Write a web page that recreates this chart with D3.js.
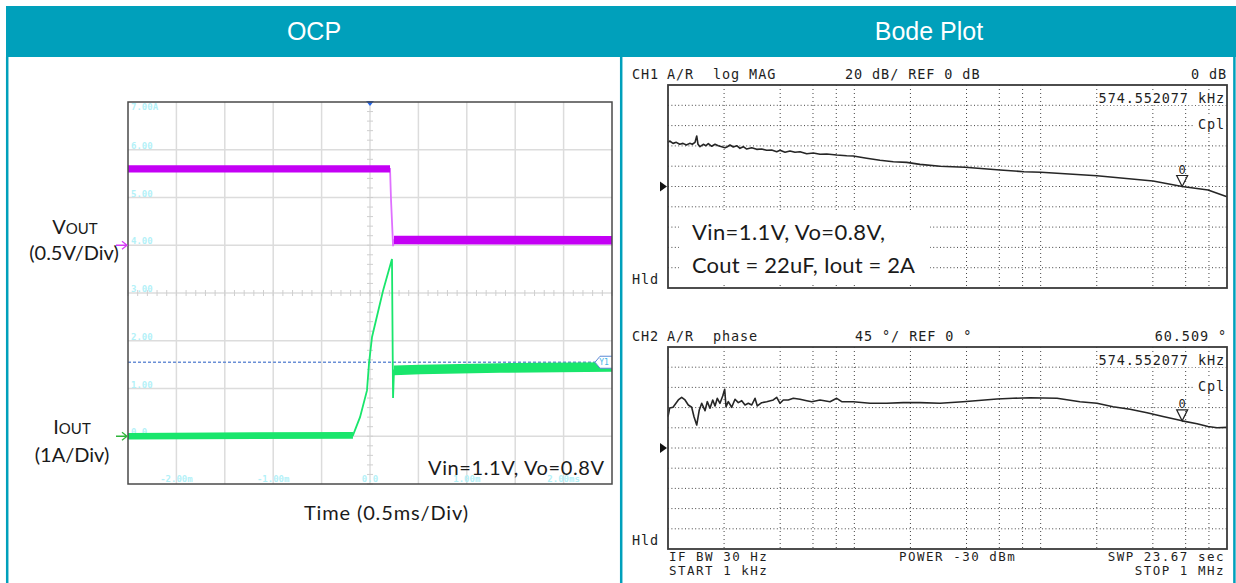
<!DOCTYPE html>
<html>
<head>
<meta charset="utf-8">
<script src="https://cdnjs.cloudflare.com/ajax/libs/d3/7.8.5/d3.min.js"></script>
<style>
	body { margin: 0; background: #fff; }
	svg { display: block; }
	.mono { font-family: "DejaVu Sans Mono", monospace; white-space: pre; fill: #1e1e1e; }
	.cal { font-family: Lato, "Open Sans", sans-serif; fill: #1a1a1a; }
</style>
</head>
<body>
<div id="chart"></div>
<script>

///////////////////////////////////////////////////////////////////////////
/////////////////////////////////// Data //////////////////////////////////
///////////////////////////////////////////////////////////////////////////

//Scope (OCP) - time in ms, current in A, voltage in V
var scopeTimeTicks = [-2, -1, 0, 1, 2];
var scopeTimeLabels = ["-2.00m", "-1.00m", "0.0", "1.00m", "2.00ms"];
var scopeAmpTicks = [0, 1, 2, 3, 4, 5, 6, 7];
var scopeAmpLabels = ["0.0", "1.00", "2.00", "3.00", "4.00", "5.00", "6.00", "7.00A"];
var cursorY1 = 1.55;

//[time, value, ripple]
var ioutTrace = [
	[-2.5, 0.00, 0.07], [-0.176, 0.02, 0.07], [-0.103, 0.40, 0], [-0.031, 0.96, 0],
	[-0.010, 1.53, 0], [0.021, 2.08, 0], [0.134, 3.04, 0], [0.227, 3.71, 0],
	[0.238, 0.80, 0], [0.248, 1.38, 0.1], [0.52, 1.40, 0.1], [1.34, 1.43, 0.1], [2.5, 1.45, 0.1]
];
var voutTrace = [
	[-2.5, 0.80, 0.037], [0.207, 0.80, 0.037], [0.217, 0.48, 0], [0.233, 0.115, 0],
	[0.238, -0.01, 0], [0.248, 0.055, 0.045], [2.5, 0.052, 0.045]
];

//Bode - frequency in kHz
var bodeGridFreqs = [2, 4, 6, 8, 10, 20, 40, 60, 80, 100, 200, 400, 600, 800];
var markerFreq = 574.552077;
var markerMag = 0;
var markerPhase = 60.509;

//[kHz, dB]
var magTrace = [
	[1.000,43.5],[1.021,44.8],[1.064,42.5],[1.108,43.5],[1.155,41.6],[1.204,42.5],[1.254,40.9],
	[1.308,42.5],[1.350,41.6],[1.396,43.5],[1.426,49.8],[1.449,41.6],[1.485,39.2],[1.547,41.6],
	[1.599,40.2],[1.646,42.2],[1.716,39.6],[1.788,41.6],[1.862,40.2],[1.942,39.2],[2.023,38.2],
	[2.081,39.2],[2.151,40.9],[2.241,38.9],[2.338,40.2],[2.434,37.6],[2.536,39.2],[2.645,36.9],
	[2.814,38.2],[2.992,36.6],[3.184,36.9],[3.386,35.7],[3.602,36.0],[3.832,34.3],[3.992,35.7],
	[4.246,33.7],[4.516,35.0],[4.804,33.7],[5.110,34.3],[5.552,32.3],[6.024,33.0],[6.544,31.7],
	[7.108,32.0],[8.043,31.0],[9.10,30.3],[9.87,30.0],[11.65,27.8],[13.73,25.8],[16.19,24.4],
	[19.1,23.8],[22.51,21.8],[28.83,19.9],[39.26,18.9],[60.5,16.3],[81.4,14.6],[100.4,14.0],
	[200.6,10.6],[400.8,5.4],[574.55,0],[791,-3.4],[1000,-10]
];

//[kHz, degrees]
var phaseTrace = [
	[1.000,69.7],[1.021,89.1],[1.064,90.7],[1.136,107],[1.184,113],[1.234,107],[1.285,95.8],
	[1.340,90.7],[1.379,69.7],[1.426,51.2],[1.472,84.7],[1.517,99.6],[1.580,83.1],[1.625,103.2],
	[1.680,88.5],[1.738,107],[1.788,93.6],[1.839,110.7],[1.901,99.6],[1.966,115.9],[2.015,130.8],
	[2.048,92],[2.107,103.2],[2.197,90.7],[2.289,108.5],[2.384,101],[2.487,105.4],[2.590,95.8],
	[2.698,99.6],[2.814,95.8],[2.931,110.7],[3.015,93.6],[3.184,101],[3.386,103.2],[3.674,107],
	[3.832,113],[3.992,99.6],[4.157,107],[4.421,107],[4.705,110.7],[5.110,108.5],[5.552,105.4],
	[5.905,103.2],[6.544,107],[7.403,103.2],[8.043,110.7],[8.556,103.2],[9.87,103.2],[12.14,99.6],
	[14.92,99.6],[18.31,101],[22.51,101],[28.83,99.6],[38.31,103.2],[58.3,109.2],[71.0,110.7],
	[87.7,112],[122.4,110.7],[162.6,103.2],[200.6,99.6],[244.5,92],[301.7,86.2],[372.2,78.7],
	[453.6,70],[574.55,60.5],[690.4,54],[791,48],[884,45],[1000,46]
];

///////////////////////////////////////////////////////////////////////////
//////////////////// Set up and initiate svg containers ///////////////////
///////////////////////////////////////////////////////////////////////////

var width = 1236,
	height = 583,
	teal = "#00a0bb";

var svg = d3.select("#chart").append("svg")
	.attr("width", width)
	.attr("height", height);

//Header band and panel borders
svg.append("rect")
	.attr("x", 6).attr("y", 6)
	.attr("width", width - 6).attr("height", 51)
	.attr("fill", teal);

[7.2, 621.2, 1234.4].forEach(function(x) {
	svg.append("line")
		.attr("x1", x).attr("x2", x)
		.attr("y1", 57).attr("y2", height)
		.attr("stroke", teal)
		.attr("stroke-width", 2.5);
});

svg.selectAll(".header-text")
	.data([["OCP", 314], ["Bode Plot", 929]])
	.enter().append("text")
	.attr("class", "header-text")
	.attr("x", function(d) { return d[1]; })
	.attr("y", 40)
	.attr("text-anchor", "middle")
	.style("font-family", "'Liberation Sans', Arial, sans-serif")
	.style("font-size", "25px")
	.style("fill", "#fff")
	.text(function(d) { return d[0]; });

///////////////////////////////////////////////////////////////////////////
///////////////////////////// Scope screenshot ////////////////////////////
///////////////////////////////////////////////////////////////////////////

var scope = {left: 128, right: 612, top: 102, bottom: 484};

var xT = d3.scaleLinear().domain([-2.5, 2.5]).range([scope.left, scope.right]);
var yI = d3.scaleLinear().domain([-1, 7]).range([scope.bottom, scope.top]);	//1 A/div
var yV = d3.scaleLinear().domain([-2.5, 1.5]).range([scope.bottom, scope.top]);	//0.5 V/div

var sg = svg.append("g");

sg.append("rect")
	.attr("x", scope.left).attr("y", scope.top)
	.attr("width", scope.right - scope.left).attr("height", scope.bottom - scope.top)
	.attr("fill", "#fff");

//Grid
sg.selectAll(".v-grid")
	.data(d3.range(-2, 2.01, 0.5))
	.enter().append("line")
	.attr("x1", function(d) { return xT(d); }).attr("x2", function(d) { return xT(d); })
	.attr("y1", scope.top).attr("y2", scope.bottom)
	.attr("stroke", "#dcdcdc").attr("stroke-width", 1.5);

sg.selectAll(".h-grid")
	.data(d3.range(0, 7))
	.enter().append("line")
	.attr("x1", scope.left).attr("x2", scope.right)
	.attr("y1", function(d) { return yI(d); }).attr("y2", function(d) { return yI(d); })
	.attr("stroke", "#dcdcdc").attr("stroke-width", 1.5);

//Minor ticks on the centre lines
sg.selectAll(".tick-v")
	.data(d3.range(-1, 7.01, 0.2))
	.enter().append("line")
	.attr("x1", xT(0) - 3).attr("x2", xT(0) + 3)
	.attr("y1", function(d) { return yI(d); }).attr("y2", function(d) { return yI(d); })
	.attr("stroke", "#cfcfcf").attr("stroke-width", 1);

sg.selectAll(".tick-h")
	.data(d3.range(-2.5, 2.51, 0.1))
	.enter().append("line")
	.attr("x1", function(d) { return xT(d); }).attr("x2", function(d) { return xT(d); })
	.attr("y1", yI(3) - 3).attr("y2", yI(3) + 3)
	.attr("stroke", "#cfcfcf").attr("stroke-width", 1);

//Cyan scale labels
sg.selectAll(".amp-label")
	.data(scopeAmpTicks)
	.enter().append("text")
	.attr("class", "mono")
	.attr("x", scope.left + 3)
	.attr("y", function(d, i) { return i === scopeAmpTicks.length - 1 ? yI(d) + 8 : yI(d) - 1; })
	.style("font-size", "9px").style("font-weight", "bold")
	.style("fill", "#b3f1f8")
	.text(function(d, i) { return scopeAmpLabels[i]; });

sg.selectAll(".time-label")
	.data(scopeTimeTicks)
	.enter().append("text")
	.attr("class", "mono")
	.attr("x", function(d) { return xT(d); })
	.attr("y", scope.bottom - 2)
	.attr("text-anchor", "middle")
	.style("font-size", "9px").style("font-weight", "bold")
	.style("fill", "#b3f1f8")
	.text(function(d, i) { return scopeTimeLabels[i]; });

//Y1 cursor
var yc = yI(cursorY1);
sg.append("line")
	.attr("x1", scope.left).attr("x2", scope.right - 16)
	.attr("y1", yc).attr("y2", yc)
	.attr("stroke", "#6a8fd6").attr("stroke-width", 1.3)
	.attr("stroke-dasharray", "3,2");

//Traces
function drawTrace(data, yScale, bandColor, lineColor) {
	var area = d3.area()
		.defined(function(d) { return d[2] > 0; })
		.x(function(d) { return xT(d[0]); })
		.y0(function(d) { return yScale(d[1] - d[2]); })
		.y1(function(d) { return yScale(d[1] + d[2]); });
	var line = d3.line()
		.x(function(d) { return xT(d[0]); })
		.y(function(d) { return yScale(d[1]); });

	sg.append("path").attr("d", line(data))
		.attr("fill", "none").attr("stroke", lineColor).attr("stroke-width", 1.8);
	sg.append("path").attr("d", area(data))
		.attr("fill", bandColor);
}
drawTrace(ioutTrace, yI, "#19e66c", "#19e66c");
drawTrace(voutTrace, yV, "#c400f5", "#df70ff");

//Y1 tag
sg.append("path")
	.attr("d", "M" + scope.right + "," + (yc - 6) + "H" + (scope.right - 12) + "L" + (scope.right - 17) + "," + yc +
		"L" + (scope.right - 12) + "," + (yc + 6) + "H" + scope.right)
	.attr("fill", "#fff").attr("stroke", "#5b8ad6").attr("stroke-width", 1);
sg.append("text")
	.attr("class", "mono")
	.attr("x", scope.right - 8).attr("y", yc + 3)
	.attr("text-anchor", "middle")
	.style("font-size", "8px").style("fill", "#3fb4e6")
	.text("Y1");

//Trigger marker
sg.append("path")
	.attr("d", "M" + (xT(0) - 4) + "," + (scope.top - 1) + "h8l-4,5z")
	.attr("fill", "#2266ee");

//Frame
sg.append("rect")
	.attr("x", scope.left).attr("y", scope.top)
	.attr("width", scope.right - scope.left).attr("height", scope.bottom - scope.top)
	.attr("fill", "none").attr("stroke", "#4a4a4a").attr("stroke-width", 1.5);

//Ground arrows
function groundArrow(y, color) {
	sg.append("path")
		.attr("d", "M116," + y + "H127M122," + (y - 4) + "L127," + y + "L122," + (y + 4))
		.attr("fill", "none").attr("stroke", color).attr("stroke-width", 1.3);
}
groundArrow(yV(0), "#d63cf5");
groundArrow(yI(0), "#2fb53a");

//Channel labels
function smallCaps(x, y, big, small) {
	var t = svg.append("text").attr("class", "cal")
		.attr("x", x).attr("y", y).attr("text-anchor", "middle");
	t.append("tspan").style("font-size", "20px").text(big);
	t.append("tspan").style("font-size", "15px").text(small);
}
smallCaps(75, 234, "V", "OUT");
smallCaps(72, 434, "I", "OUT");

svg.append("text").attr("class", "cal")
	.attr("x", 74).attr("y", 260).attr("text-anchor", "middle")
	.style("font-size", "20px").text("(0.5V/Div)");
svg.append("text").attr("class", "cal")
	.attr("x", 72).attr("y", 462).attr("text-anchor", "middle")
	.style("font-size", "20px").text("(1A/Div)");

svg.append("text").attr("class", "cal")
	.attr("x", 604).attr("y", 475).attr("text-anchor", "end")
	.style("font-size", "20px")
	.attr("textLength", 176)
	.text("Vin=1.1V, Vo=0.8V");

svg.append("text").attr("class", "cal")
	.attr("x", 304).attr("y", 520)
	.style("font-size", "20px")
	.attr("textLength", 164)
	.text("Time (0.5ms/Div)");

///////////////////////////////////////////////////////////////////////////
//////////////////////////////// Bode plots ///////////////////////////////
///////////////////////////////////////////////////////////////////////////

var bode = {left: 668, right: 1227};
var xF = d3.scaleLog().domain([1, 1000]).range([bode.left, bode.right]);

function drawBode(cfg) {
	var g = svg.append("g");
	var y = d3.scaleLinear().domain([-5 * cfg.perDiv, 5 * cfg.perDiv]).range([cfg.bottom, cfg.top]);

	//Dotted grid
	g.selectAll(".hg")
		.data(d3.range(-4, 5))
		.enter().append("line")
		.attr("x1", bode.left).attr("x2", bode.right)
		.attr("y1", function(d) { return y(d * cfg.perDiv); }).attr("y2", function(d) { return y(d * cfg.perDiv); })
		.attr("stroke", "#444").attr("stroke-width", 1)
		.attr("stroke-dasharray", "1,2.4");

	g.selectAll(".vg")
		.data(bodeGridFreqs)
		.enter().append("line")
		.attr("x1", function(d) { return xF(d); }).attr("x2", function(d) { return xF(d); })
		.attr("y1", cfg.top).attr("y2", cfg.bottom)
		.attr("stroke", "#444").attr("stroke-width", 1)
		.attr("stroke-dasharray", "1,3");

	//Trace
	var line = d3.line()
		.x(function(d) { return xF(d[0]); })
		.y(function(d) { return y(d[1]); });
	g.append("path").attr("d", line(cfg.data))
		.attr("fill", "none").attr("stroke", "#262626").attr("stroke-width", 1.6)
		.attr("stroke-linejoin", "round");

	//Marker readout
	g.append("rect")
		.attr("x", 1099).attr("y", cfg.top + 5).attr("width", 127).attr("height", 15)
		.attr("fill", "#fff");
	g.append("text").attr("class", "mono")
		.attr("x", 1225).attr("y", cfg.top + 18).attr("text-anchor", "end")
		.style("font-size", "13.5px").style("letter-spacing", "0.9px")
		.text(d3.format(".6f")(markerFreq) + " kHz");
	g.append("rect")
		.attr("x", 1194).attr("y", cfg.top + 32).attr("width", 32).attr("height", 14)
		.attr("fill", "#fff");
	g.append("text").attr("class", "mono")
		.attr("x", 1225).attr("y", cfg.top + 44).attr("text-anchor", "end")
		.style("font-size", "13.5px").style("letter-spacing", "0.9px")
		.text("Cpl");

	//Marker
	var mx = xF(markerFreq), my = y(cfg.marker);
	g.append("path")
		.attr("d", "M" + (mx - 5.5) + "," + (my - 11) + "H" + (mx + 5.5) + "L" + mx + "," + my + "Z")
		.attr("fill", "none").attr("stroke", "#222").attr("stroke-width", 1.2);
	g.append("text").attr("class", "mono")
		.attr("x", mx).attr("y", my - 13).attr("text-anchor", "middle")
		.style("font-size", "12px")
		.text("0");

	//Reference pointer
	g.append("path")
		.attr("d", "M660," + (y(0) - 5) + "L667," + y(0) + "L660," + (y(0) + 5) + "Z")
		.attr("fill", "#111");

	//Frame
	g.append("rect")
		.attr("x", bode.left).attr("y", cfg.top)
		.attr("width", bode.right - bode.left).attr("height", cfg.bottom - cfg.top)
		.attr("fill", "none").attr("stroke", "#3a3a3a").attr("stroke-width", 1.8);

	//Header line
	var hy = cfg.top - 6;
	cfg.header.forEach(function(h) {
		g.append("text").attr("class", "mono")
			.attr("x", h[1]).attr("y", hy)
			.attr("text-anchor", h[2] || "start")
			.style("font-size", "13.5px").style("letter-spacing", "0.9px")
			.text(h[0]);
	});
	g.append("text").attr("class", "mono")
		.attr("x", 632).attr("y", cfg.bottom - 4)
		.style("font-size", "13.5px").style("letter-spacing", "0.9px")
		.text("Hld");

	return g;
}

drawBode({
	top: 85, bottom: 288, perDiv: 20, data: magTrace, marker: markerMag,
	header: [["CH1", 632], ["A/R", 667], ["log MAG", 713], ["20 dB/ REF 0 dB", 845], [markerMag + " dB", 1227, "end"]]
});

drawBode({
	top: 347, bottom: 549, perDiv: 45, data: phaseTrace, marker: markerPhase,
	header: [["CH2", 632], ["A/R", 667], ["phase", 713], ["45 °/ REF 0 °", 855], [markerPhase + " °", 1227, "end"]]
});

//Condition text in the magnitude panel
svg.append("rect")
	.attr("x", 679).attr("y", 212).attr("width", 251).attr("height", 71)
	.attr("fill", "#fff");
svg.append("text").attr("class", "cal")
	.attr("x", 692).attr("y", 240)
	.style("font-size", "22px")
	.attr("textLength", 193)
	.text("Vin=1.1V, Vo=0.8V,");
svg.append("text").attr("class", "cal")
	.attr("x", 692).attr("y", 273)
	.style("font-size", "22px")
	.attr("textLength", 223)
	.text("Cout = 22uF, Iout = 2A");

//Footer of the analyser screen
var footer = [
	["IF BW 30 Hz", 669, 561, "start"],
	["START 1 kHz", 669, 575, "start"],
	["POWER -30 dBm", 899, 561, "start"],
	["SWP 23.67 sec", 1225, 561, "end"],
	["STOP 1 MHz", 1225, 575, "end"]
];
svg.selectAll(".footer")
	.data(footer)
	.enter().append("text")
	.attr("class", "mono")
	.attr("x", function(d) { return d[1]; })
	.attr("y", function(d) { return d[2]; })
	.attr("text-anchor", function(d) { return d[3]; })
	.style("font-size", "12.5px").style("letter-spacing", "1.5px")
	.text(function(d) { return d[0]; });

</script>
</body>
</html>
